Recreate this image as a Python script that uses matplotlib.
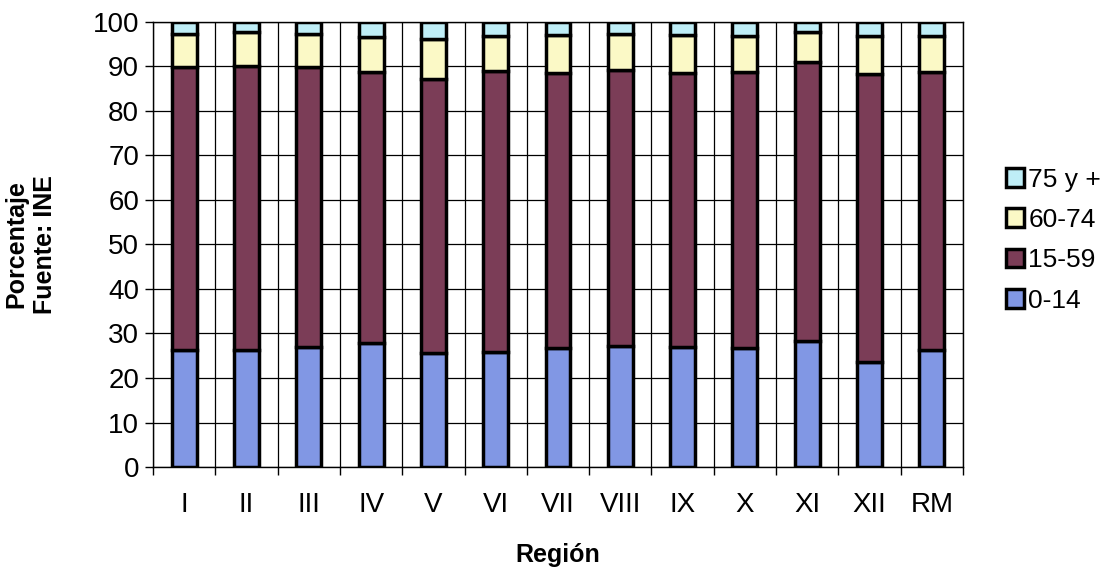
import matplotlib.pyplot as plt
import numpy as np

plt.rcParams['font.family'] = ['Liberation Sans', 'DejaVu Sans']

regiones = ['I', 'II', 'III', 'IV', 'V', 'VI', 'VII', 'VIII', 'IX', 'X', 'XI', 'XII', 'RM']
# cumulative tops, converted to shares below
top_0_14 = [26.4, 26.3, 27.0, 27.8, 25.6, 25.9, 26.7, 27.2, 27.0, 26.8, 28.3, 23.6, 26.2]
top_15_59 = [89.9, 90.2, 89.9, 88.8, 87.1, 89.0, 88.6, 89.1, 88.5, 88.7, 91.1, 88.2, 88.7]
top_60_74 = [97.4, 97.7, 97.4, 96.6, 96.1, 96.9, 97.1, 97.3, 97.1, 96.9, 97.8, 96.9, 96.9]

g0_14 = np.array(top_0_14)
g15_59 = np.array(top_15_59) - g0_14
g60_74 = np.array(top_60_74) - np.array(top_15_59)
g75 = 100 - np.array(top_60_74)

series = [('0-14', g0_14, '#8197e4'),
          ('15-59', g15_59, '#7b3d57'),
          ('60-74', g60_74, '#fbf9c6'),
          ('75 y +', g75, '#bfeef7')]

fig = plt.figure(figsize=(11.05, 5.74), dpi=100)
ax = fig.add_axes([0.1385, 0.1864, 0.733, 0.7753])

x = np.arange(len(regiones))
bottom = np.zeros(len(regiones))
handles = []
for name, vals, col in series:
    h = ax.bar(x, vals, 0.4, bottom=bottom, color=col, edgecolor='black',
               linewidth=2.5, label=name, zorder=3)
    handles.append(h)
    bottom = bottom + vals

ax.set_xlim(-0.5, len(regiones) - 0.5)
ax.set_ylim(0, 100)
ax.set_yticks(range(0, 101, 10))
ax.tick_params(axis='y', labelsize=20, length=6, width=1, pad=4)
ax.set_xticks(x)
ax.set_xticklabels(regiones, fontsize=20)
ax.tick_params(axis='x', length=0, pad=18)
ax.set_xticks(np.arange(-0.5, len(regiones)), minor=True)
ax.tick_params(axis='x', which='minor', length=6, width=1)
ax.grid(axis='y', color='black', linewidth=0.9, zorder=0)
ax.grid(axis='x', which='minor', color='black', linewidth=0.9, zorder=0)
for s in ax.spines.values():
    s.set_linewidth(1)

ax.set_ylabel('Porcentaje\nFuente: INE', fontsize=18, fontweight='bold', labelpad=26)
ax.set_xlabel('Región', fontsize=18, fontweight='bold', labelpad=18)

ax.legend(handles[::-1], [s[0] for s in series][::-1], loc='center left',
          bbox_to_anchor=(1.03, 0.51), frameon=False, fontsize=19,
          handlelength=0.7, handleheight=0.7, handletextpad=0.15, labelspacing=0.62,
          borderpad=0.2)

fig.savefig('out.png', dpi=100)
